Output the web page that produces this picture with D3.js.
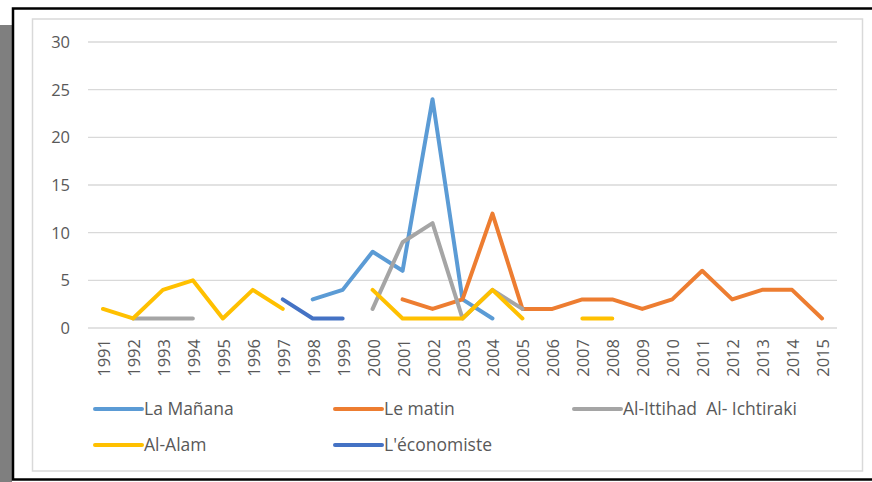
<!DOCTYPE html>
<html>
<head>
<meta charset="utf-8">
<script src="https://cdn.jsdelivr.net/npm/d3@7"></script>
<style>
body{margin:0;background:#fff;}
text{font-family:"Open Sans",sans-serif;fill:#595959;white-space:pre;}
</style>
</head>
<body>
<script>
////Data
var years = [1991,1992,1993,1994,1995,1996,1997,1998,1999,2000,2001,2002,2003,2004,2005,2006,2007,2008,2009,2010,2011,2012,2013,2014,2015]
var laManana  = [null,null,null,null,null,null,null,3,4,8,6,24,3,1,null,null,null,null,null,null,null,null,null,null,null]
var leMatin   = [null,null,null,null,null,null,null,null,null,null,3,2,3,12,2,2,3,3,2,3,6,3,4,4,1]
var alIttihad = [null,1,1,1,null,null,null,null,null,2,9,11,1,4,2,null,null,null,null,null,null,null,null,null,null]
var alAlam    = [2,1,4,5,1,4,2,null,null,4,1,1,1,4,1,null,1,1,null,null,null,null,null,null,null]
var economiste = [null,null,null,null,null,null,3,1,1,null,null,null,null,null,null,null,null,null,null,null,null,null,null,null,null]
var yTicks = [0,5,10,15,20,25,30]

var series = [
    {name:"La Mañana", values:laManana, color:"#5B9BD5"},
    {name:"Le matin", values:leMatin, color:"#ED7D31"},
    {name:"Al-Ittihad  Al- Ichtiraki", values:alIttihad, color:"#A5A5A5"},
    {name:"Al-Alam", values:alAlam, color:"#FFC000"},
    {name:"L'économiste", values:economiste, color:"#4472C4"}
]

////Frame
var svg = d3.select("body").append("svg").attr("width",872).attr("height",482)

svg.append("rect").attr("x",0).attr("y",25).attr("width",12).attr("height",457).attr("fill","#7f7f7f") //grey strip on the left
svg.append("rect").attr("x",13).attr("y",8.5).attr("width",870).attr("height",471).attr("fill","#fff")
    .attr("stroke","#000").attr("stroke-width",2.5) //black outer border
svg.append("rect").attr("x",32.5).attr("y",19).attr("width",830).attr("height",452).attr("fill","#fff")
    .attr("stroke","#d9d9d9").attr("stroke-width",1.5) //chart area border

////Scales
var x = d3.scalePoint().domain(years).range([88,837]).padding(0.5)
var y = d3.scaleLinear().domain([0,30]).range([328,42])

//Gridlines and y labels
svg.selectAll(".grid").data(yTicks).enter().append("line")
    .attr("x1",88).attr("x2",837)
    .attr("y1",function(d){return y(d)}).attr("y2",function(d){return y(d)})
    .attr("stroke","#d9d9d9").attr("stroke-width",1.3)

svg.selectAll(".ylab").data(yTicks).enter().append("text")
    .attr("x",70).attr("y",function(d){return y(d)+6})
    .attr("text-anchor","end").style("font-size","16.5px")
    .text(function(d){return d})

//x labels, rotated
svg.selectAll(".xlab").data(years).enter().append("text")
    .attr("transform",function(d){return "translate("+(x(d)+7)+",339) rotate(-90)"})
    .attr("text-anchor","end").style("font-size","16.5px")
    .text(function(d){return d})

////Lines
var line = d3.line()
    .defined(function(d){return d.v!=null})
    .x(function(d){return x(d.year)})
    .y(function(d){return y(d.v)})

series.forEach(function(s){
    var pts = years.map(function(yr,i){return {year:yr,v:s.values[i]}})
    svg.append("path").attr("d",line(pts))
        .attr("fill","none").attr("stroke",s.color).attr("stroke-width",4)
        .attr("stroke-linejoin","round").attr("stroke-linecap","round")
})

////Legend
var legendPos = [[95,409],[335,409],[574,409],[95,445],[335,445]]
series.forEach(function(s,i){
    var p = legendPos[i]
    svg.append("line").attr("x1",p[0]).attr("x2",p[0]+47).attr("y1",p[1]).attr("y2",p[1])
        .attr("stroke",s.color).attr("stroke-width",4).attr("stroke-linecap","round")
    svg.append("text").attr("x",p[0]+49).attr("y",p[1]+6).style("font-size","17.5px").text(s.name)
})
</script>
</body>
</html>
